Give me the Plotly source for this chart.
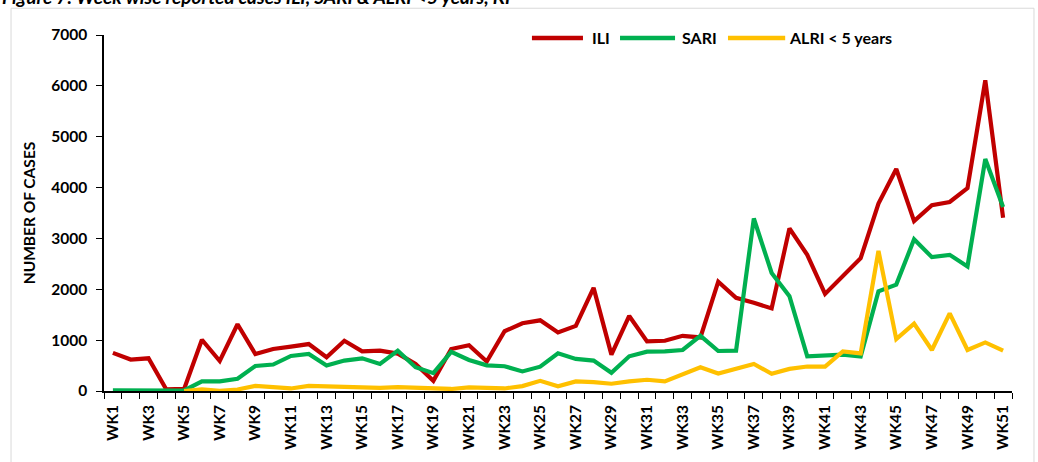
import plotly.graph_objects as go

# week labels and case counts
weeks = [f"WK{i}" for i in range(1, 52)]
week_no = list(range(1, 52))

ili = [750, 618, 643, 30, 40, 1008, 590, 1312, 727, 825,
       871, 923, 663, 988, 780, 793, 735, 532, 200, 825,
       900, 580, 1175, 1332, 1390, 1150, 1280, 2027, 715, 1475,
       975, 988, 1085, 1053, 2150, 1832, 1735, 1624, 3197, 2677,
       1910, 2255, 2612, 3684, 4366, 3340, 3652, 3717, 3990, 6108,
       3405]

sari = [15, 10, 15, 5, 10, 189, 189, 240, 493, 520,
        689, 727, 500, 598, 643, 532, 793, 468, 351, 770,
        610, 505, 487, 385, 478, 740, 630, 598, 357, 682,
        773, 780, 806, 1085, 787, 793, 3392, 2320, 1865, 682,
        690, 715, 680, 1962, 2092, 2982, 2632, 2677, 2450, 4561,
        3620]

alri = [None, None, None, None, 0, 30, 5, 30, 100, 80,
        50, 100, 85, 70, 60, 60, 75, 65, 60, 40,
        70, 65, 50, 97, 200, 91, 189, 175, 143, 189,
        221, 189, 338, 468, 345, 445, 532, 338, 435, 481,
        481, 780, 740, 2755, 1020, 1326, 806, 1527, 806, 955,
        793]

series = [("ILI", ili, "#C00000"),
          ("SARI", sari, "#00B050"),
          ("ALRI < 5 years", alri, "#FFC000")]

FONT = "Lato, 'Open Sans', sans-serif"

fig = go.Figure()
for name, vals, col in series:
    fig.add_trace(go.Scatter(
        x=week_no, y=vals, mode="lines", name=name,
        line=dict(color=col, width=4.2),
        hovertemplate=name + ": %{y}<extra></extra>",
    ))

# label every other week, tick marks on category boundaries
tickvals = week_no[::2]
ticktext = weeks[::2]
boundaries = [w - 0.5 for w in week_no] + [week_no[-1] + 0.5]

# excel-style legend: long line samples drawn by hand (paper coords)
legend_pos = [(0.4713, 0.5275, 0.5353),
              (0.5683, 0.6289, 0.6344),
              (0.6872, 0.7502, 0.7524)]
shapes = [dict(type="rect", xref="paper", yref="paper",
               x0=-0.1024, x1=1.0242, y0=-0.3, y1=1.0752,
               line=dict(color="#D9D9D9", width=1), layer="below")]
annotations = [dict(
    text="<i>Figure 7: Week wise reported cases ILI, SARI & ALRI <5 years, KP</i>",
    xref="paper", yref="paper", x=-0.1149, y=1.0696,
    xanchor="left", yanchor="bottom", showarrow=False,
    font=dict(size=19, weight="bold", color="black"),
)]
for (name, _, col), (x0, x1, xt) in zip(series, legend_pos):
    shapes.append(dict(type="line", xref="paper", yref="paper",
                       x0=x0, x1=x1, y0=0.9916, y1=0.9916,
                       line=dict(color=col, width=4.5)))
    annotations.append(dict(text=name, xref="paper", yref="paper",
                            x=xt, y=0.9916, xanchor="left", yanchor="middle",
                            showarrow=False,
                            font=dict(size=16, weight="bold", color="black")))

fig.update_layout(
    width=1038, height=462,
    margin=dict(l=104, r=26, t=35, b=68),
    paper_bgcolor="white",
    plot_bgcolor="white",
    font=dict(family=FONT, color="black", size=15),
    showlegend=False,
    xaxis=dict(
        range=[0.5, 51.5],
        tickvals=tickvals, ticktext=ticktext,
        tickangle=-90, ticks="", showgrid=False, zeroline=False,
        showline=True, linecolor="black", linewidth=1.5,
        tickfont=dict(size=15.5, weight="bold"),
        ticklabelstandoff=6,
        minor=dict(tickvals=boundaries, ticks="outside", ticklen=6,
                   tickcolor="black", tickwidth=1.2, showgrid=False),
    ),
    yaxis=dict(
        range=[0, 7000], dtick=1000,
        ticks="outside", ticklen=6, tickcolor="black", tickwidth=1.2,
        showgrid=False, zeroline=False,
        showline=True, linecolor="black", linewidth=1.5,
        tickfont=dict(size=15.5, weight="bold"),
        ticklabelstandoff=6,
        title=dict(text="NUMBER OF CASES", standoff=12,
                   font=dict(size=15.5, weight="bold")),
    ),
    shapes=shapes,
    annotations=annotations,
)

# drop the default 8px body margin so the figure fills the window
fig.write_html("out.html", config={"displayModeBar": False},
               post_script="document.body.style.margin='0px';")
